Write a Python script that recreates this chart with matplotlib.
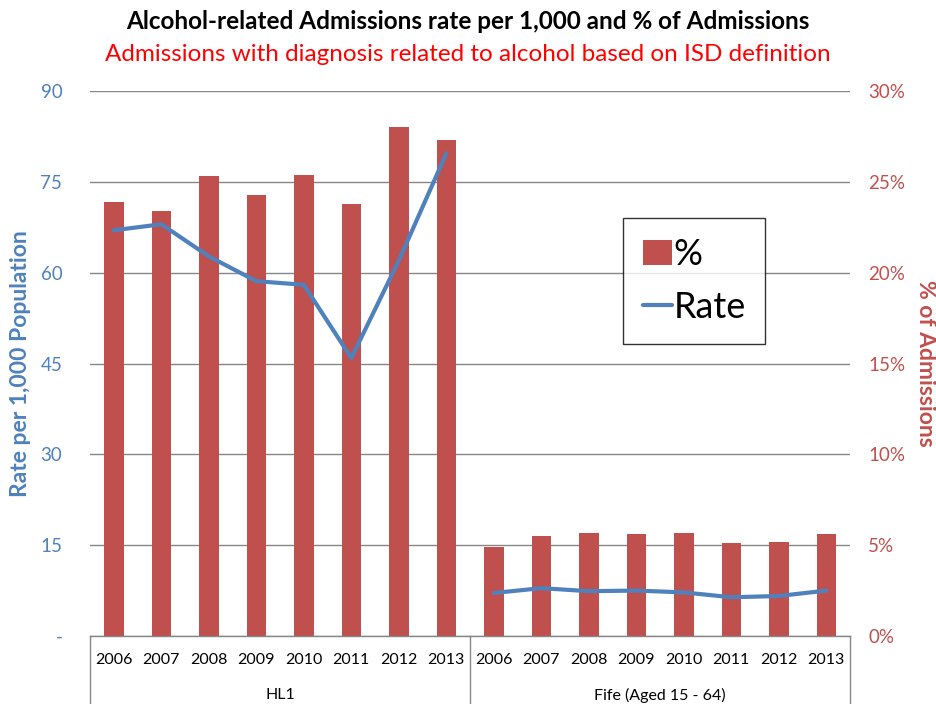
import matplotlib.pyplot as plt
import matplotlib.transforms as mtransforms
from matplotlib.ticker import FuncFormatter
import numpy as np

plt.rcParams['font.family'] = ['Lato', 'DejaVu Sans']

years = ['2006', '2007', '2008', '2009', '2010', '2011', '2012', '2013']
groups = ['HL1', 'Fife (Aged 15 - 64)']

# % of admissions (right axis) and rate per 1,000 (left axis)
hl1_pct = [23.9, 23.4, 25.3, 24.3, 25.4, 23.8, 28.0, 27.3]
fife_pct = [4.9, 5.5, 5.65, 5.6, 5.65, 5.1, 5.2, 5.6]
hl1_rate = [67.0, 68.0, 62.7, 58.6, 58.0, 45.9, 62.0, 79.7]
fife_rate = [7.1, 7.9, 7.4, 7.5, 7.2, 6.4, 6.6, 7.5]

bar_col = '#C0504D'
line_col = '#4F81BD'
grid_col = '#868686'

fig = plt.figure(figsize=(9.36, 7.04), dpi=100)
ax = fig.add_axes([0.0962, 0.0966, 0.812, 0.7741])
ax2 = ax.twinx()

n = len(years)
x_all = np.arange(2 * n)
pct_all = hl1_pct + fife_pct

bars = ax.bar(x_all, pct_all, width=0.41, color=bar_col, zorder=2, label='%')
ax.set_ylim(0, 30)
ax.set_xlim(-0.5, 2 * n - 0.5)
ax.set_yticks(np.arange(0, 31, 5))
ax.yaxis.set_major_formatter(FuncFormatter(lambda v, p: f'{v:.0f}%'))
ax.yaxis.tick_right()
ax.tick_params(axis='y', colors=bar_col, labelcolor=bar_col, length=0,
               pad=13, labelsize=13.5)
ax.grid(axis='y', color=grid_col, lw=1, zorder=0)
ax.set_axisbelow(True)

line, = ax2.plot(x_all[:n], hl1_rate, color=line_col, lw=3,
                 solid_capstyle='round', label='Rate')
ax2.plot(x_all[n:], fife_rate, color=line_col, lw=3, solid_capstyle='round')
ax2.set_ylim(0, 90)
ax2.set_yticks(np.arange(0, 91, 15))
ax2.yaxis.set_major_formatter(
    FuncFormatter(lambda v, p: '-' if v == 0 else f'{v:.0f}'))
ax2.yaxis.tick_left()
ax2.tick_params(axis='y', colors=line_col, labelcolor=line_col, length=0,
                pad=20, labelsize=13.5)

for a in (ax, ax2):
    for s in a.spines.values():
        s.set_visible(False)

# two-level category axis
ax.set_xticks([])
ax2.set_xticks([])
trans = mtransforms.blended_transform_factory(ax.transData, ax.transAxes)
ax.plot([-0.5, 2 * n - 0.5], [0, 0], color=grid_col, lw=1,
        transform=trans, clip_on=False)
for xv in (-0.5, n - 0.5, 2 * n - 0.5):
    ax.plot([xv, xv], [0, -0.13], color=grid_col, lw=1,
            transform=trans, clip_on=False)
for i in range(2 * n):
    ax.text(i, -0.044, years[i % n], transform=trans, ha='center',
            va='center', fontsize=11.5, color='black')
for g, name in enumerate(groups):
    ax.text(g * n + (n - 1) / 2, -0.109, name, transform=trans,
            ha='center', va='center', fontsize=11.5, color='black')

# axis titles; set_label_position resets the alignment, so it goes first
ax2.yaxis.set_label_position('left')
ax2.set_ylabel('Rate per 1,000 Population', color=line_col,
               fontsize=16.5, fontweight='bold')
ax2.yaxis.label.set_verticalalignment('center')
ax2.yaxis.set_label_coords(-0.092, 0.5)
ax.yaxis.set_label_position('right')
ax.set_ylabel('% of Admissions', color=bar_col, fontsize=16.5,
              fontweight='bold', rotation=-90)
ax.yaxis.label.set_verticalalignment('center')
ax.yaxis.set_label_coords(1.099, 0.5)

leg = ax2.legend([bars, line], ['%', 'Rate'], loc='upper left',
                 bbox_to_anchor=(0.701, 0.767), borderaxespad=0,
                 fontsize=26, frameon=True, fancybox=False,
                 edgecolor='black', handlelength=0.8, handleheight=0.7,
                 handletextpad=0.05, borderpad=0.55, labelspacing=0.55)
leg.get_frame().set_linewidth(1.0)

fig.text(0.5, 0.969, 'Alcohol-related Admissions rate per 1,000 and % of Admissions',
         ha='center', va='center', fontsize=17.5, fontweight='bold',
         color='black')
fig.text(0.5, 0.923, 'Admissions with diagnosis related to alcohol based on ISD definition',
         ha='center', va='center', fontsize=17.5, color='#FF0000')

fig.savefig('out.png', dpi=100)
